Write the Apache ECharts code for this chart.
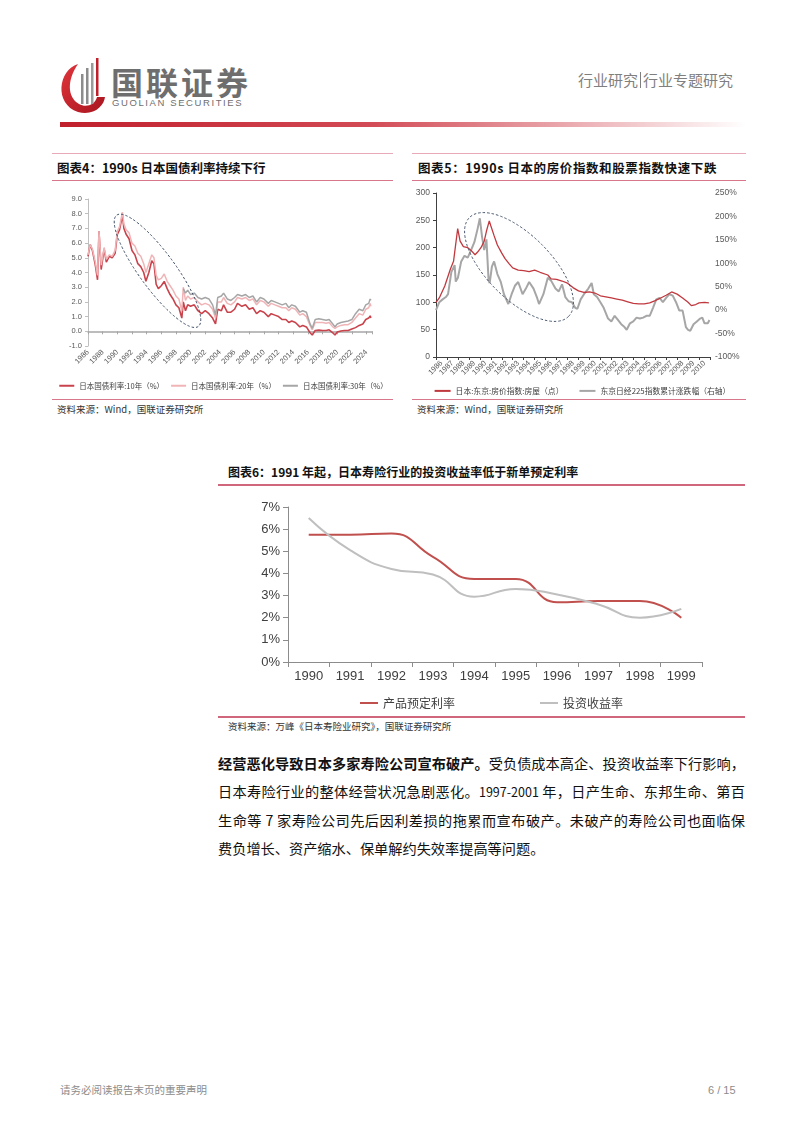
<!DOCTYPE html>
<html><head><meta charset="utf-8">
<script src="https://cdn.jsdelivr.net/npm/echarts@6/dist/echarts.min.js"></script>
<style>
body{margin:0;background:#fff;}
#page{position:relative;width:802px;height:1133px;overflow:hidden;font-family:'Noto Sans CJK SC','Liberation Sans',sans-serif;background:#fff;}
.abs{position:absolute;white-space:nowrap;}
.chart{position:absolute;}
.title{font-weight:bold;font-size:12.5px;color:#111;line-height:14px;}
.src{font-size:9.5px;color:#333;line-height:12px;}
.hl{position:absolute;height:0;}
.bl{position:absolute;left:218px;width:527px;font-size:14.2px;line-height:20px;color:#111;text-align:justify;text-align-last:justify;white-space:nowrap;}
svg.ov{position:absolute;left:0;top:0;pointer-events:none;z-index:5;}
</style></head>
<body><div id="page">
<!-- header -->
<svg class="ov" width="802" height="140" style="z-index:1">
  <defs>
    <linearGradient id="bar" x1="0" x2="1" y1="0" y2="0">
      <stop offset="0" stop-color="#C0202C"/><stop offset="0.45" stop-color="#D24A55"/><stop offset="1" stop-color="#FFFFFF"/>
    </linearGradient>
    <linearGradient id="lg" x1="0" x2="1" y1="0" y2="1">
      <stop offset="0" stop-color="#E0353C"/><stop offset="1" stop-color="#A8141E"/>
    </linearGradient>
  </defs>
  <path d="M78 64 C58 70 54 104 78 112 C94 116 104 106 105 97 L97 97 C95 105 86 108 79 104 C67 97 67 80 78 64 Z" fill="url(#lg)"/>
  <rect x="81" y="74" width="2.5" height="30" fill="#8C8C8C"/>
  <rect x="86" y="68" width="2.5" height="36" fill="#8C8C8C"/>
  <rect x="91" y="63" width="2.5" height="41" fill="#9A9A9A"/>
  <rect x="96" y="58" width="2.5" height="38" fill="#C0202C"/>
  <rect x="60" y="122" width="686" height="5" fill="url(#bar)"/>
</svg>
<div class="abs" style="left:111px;top:63px;font-size:32px;font-weight:bold;color:#6E6E6E;letter-spacing:3px;line-height:36px;">国联证券</div>
<div class="abs" style="left:112px;top:97px;font-size:9.5px;color:#6E6E6E;letter-spacing:1.6px;line-height:11px;font-family:'Liberation Sans',sans-serif;">GUOLIAN SECURITIES</div>
<div class="abs" style="left:578px;top:70px;font-size:15px;color:#7F7F7F;line-height:20px;">行业研究<span style="display:inline-block;width:1px;height:16px;background:#7F7F7F;vertical-align:-2px;margin:0 2px;"></span>行业专题研究</div>

<!-- chart 4 frame -->
<div class="hl" style="left:52px;top:153px;width:341px;border-top:1px solid #E8A9B8;"></div>
<div class="abs title" style="left:57px;top:161px;">图表4：1990s 日本国债利率持续下行</div>
<div class="hl" style="left:52px;top:180px;width:341px;border-top:1.5px solid #D8768C;"></div>
<div id="c4" class="chart" style="left:52px;top:185px;width:343px;height:212px;"></div>
<div class="hl" style="left:52px;top:399px;width:341px;border-top:1.5px solid #D8768C;"></div>
<div class="abs src" style="left:57px;top:403px;">资料来源：Wind，国联证券研究所</div>

<!-- chart 5 frame -->
<div class="hl" style="left:412px;top:153px;width:334px;border-top:1px solid #E8A9B8;"></div>
<div class="abs title" style="left:418px;top:161px;letter-spacing:0.6px;">图表5：1990s 日本的房价指数和股票指数快速下跌</div>
<div class="hl" style="left:412px;top:180px;width:334px;border-top:1.5px solid #D8768C;"></div>
<div id="c5" class="chart" style="left:410px;top:185px;width:345px;height:214px;"></div>
<div class="hl" style="left:412px;top:399px;width:334px;border-top:1.5px solid #D8768C;"></div>
<div class="abs src" style="left:417px;top:403px;">资料来源：Wind，国联证券研究所</div>

<!-- chart 6 frame -->
<div class="abs title" style="left:228px;top:465px;font-size:12px;">图表6：1991 年起，日本寿险行业的投资收益率低于新单预定利率</div>
<div class="hl" style="left:218px;top:484px;width:527px;border-top:2px solid #D0667C;"></div>
<div id="c6" class="chart" style="left:218px;top:490px;width:527px;height:225px;"></div>
<div class="hl" style="left:218px;top:716px;width:527px;border-top:2px solid #D0667C;"></div>
<div class="abs src" style="left:228px;top:720px;">资料来源：万峰《日本寿险业研究》，国联证券研究所</div>

<!-- ellipses -->
<svg class="ov" width="802" height="420">
  <ellipse cx="157.5" cy="270.8" rx="69" ry="18" transform="rotate(53.8 157.5 270.8)" fill="none" stroke="#3F4F66" stroke-width="0.9" stroke-dasharray="2.5,2"/>
  <ellipse cx="519" cy="267" rx="70" ry="32" transform="rotate(45 519 267)" fill="none" stroke="#3F4F66" stroke-width="0.9" stroke-dasharray="2.5,2"/>
</svg>

<!-- body text -->
<div class="bl" style="top:753px;"><b>经营恶化导致日本多家寿险公司宣布破产。</b>受负债成本高企、投资收益率下行影响，</div>
<div class="bl" style="top:781px;">日本寿险行业的整体经营状况急剧恶化。<span style="font-size:12.5px;">1997-2001</span> 年，日产生命、东邦生命、第百</div>
<div class="bl" style="top:810px;">生命等 7 家寿险公司先后因利差损的拖累而宣布破产。未破产的寿险公司也面临保</div>
<div class="bl" style="top:838px;text-align:left;text-align-last:left;">费负增长、资产缩水、保单解约失效率提高等问题。</div>

<!-- footer -->
<div class="abs" style="left:60px;top:1083px;font-size:10.5px;color:#8C8C8C;line-height:14px;">请务必阅读报告末页的重要声明</div>
<div class="abs" style="left:708px;top:1083px;font-size:11px;color:#8C8C8C;line-height:14px;font-family:'Liberation Sans',sans-serif;">6 / 15</div>
</div>

<script>
// ---------- Chart 4: JGB yields ----------
const years4 = [1986.0,1986.3,1986.6,1987.0,1987.3,1987.5,1987.8,1988.2,1988.5,1988.9,1989.3,1989.7,1990.0,1990.3,1990.7,1990.9,1991.2,1991.6,1992.0,1992.4,1992.8,1993.2,1993.6,1993.9,1994.3,1994.7,1995.0,1995.3,1995.6,1996.0,1996.4,1996.8,1997.2,1997.6,1998.0,1998.4,1998.8,1999.0,1999.3,1999.6,2000.0,2000.5,2001.0,2001.5,2002.0,2002.5,2003.0,2003.4,2003.7,2004.2,2004.5,2005.0,2005.5,2006.0,2006.4,2007.0,2007.5,2008.0,2008.5,2009.0,2009.5,2010.0,2010.6,2011.0,2011.5,2012.0,2012.5,2013.0,2013.4,2013.8,2014.3,2014.9,2015.3,2015.8,2016.3,2016.6,2017.0,2017.5,2018.0,2018.5,2018.9,2019.4,2019.7,2020.0,2020.5,2021.0,2021.5,2022.0,2022.5,2023.0,2023.5,2023.9,2024.3,2024.5,2024.6];
const jgb10 = [5.1,5.9,5.5,4.5,3.5,6.8,4.2,5.6,4.7,5.1,5.0,5.3,6.6,6.9,7.9,7.0,6.6,6.3,5.5,5.2,4.6,4.4,4.0,3.4,4.0,4.8,4.6,3.2,2.9,3.1,3.4,2.9,2.5,2.2,1.8,1.6,0.9,2.0,1.4,1.8,1.7,1.8,1.4,1.2,1.4,1.2,0.9,0.5,1.5,1.4,1.8,1.3,1.3,1.5,1.9,1.7,1.8,1.5,1.6,1.2,1.4,1.3,1.0,1.2,1.1,1.0,0.8,0.8,0.6,0.7,0.6,0.3,0.4,0.3,-0.1,-0.25,0.05,0.08,0.05,0.05,0.1,-0.1,-0.25,-0.05,0.02,0.05,0.05,0.15,0.25,0.4,0.5,0.8,0.9,1.05,0.9];
const jgb20 = [5.2,5.9,5.6,4.7,3.8,6.8,4.5,5.7,4.9,5.2,5.1,5.5,6.8,7.1,8.1,7.3,6.9,6.7,6.0,5.8,5.3,5.1,4.6,4.0,4.6,5.2,5.0,3.8,3.5,3.6,3.9,3.4,3.1,2.8,2.4,2.2,1.4,3.0,2.1,2.4,2.2,2.3,2.0,1.8,1.9,1.8,1.5,0.9,2.0,2.0,2.3,1.9,1.8,2.0,2.3,2.2,2.3,2.1,2.2,1.8,2.1,2.0,1.7,1.9,1.8,1.7,1.6,1.6,1.4,1.6,1.5,1.1,1.2,1.0,0.4,0.1,0.6,0.6,0.6,0.55,0.6,0.3,0.2,0.3,0.4,0.45,0.45,0.6,0.9,1.2,1.1,1.5,1.6,1.9,1.7];
const jgb30 = [null,null,null,null,null,null,null,null,null,null,null,null,null,null,null,null,null,null,null,null,null,null,null,null,null,null,null,null,null,null,null,null,null,null,null,null,null,2.9,2.6,2.8,2.5,2.6,2.3,2.2,2.3,2.2,1.8,1.1,2.3,2.4,2.6,2.2,2.1,2.3,2.5,2.4,2.5,2.3,2.4,2.0,2.3,2.2,1.9,2.1,2.0,1.9,1.8,1.9,1.6,1.8,1.7,1.3,1.4,1.3,0.5,0.2,0.8,0.85,0.8,0.75,0.8,0.5,0.3,0.5,0.6,0.65,0.7,0.8,1.2,1.5,1.4,1.8,1.9,2.2,2.1];
const names4 = ['日本国债利率:10年（%）','日本国债利率:20年（%）','日本国债利率:30年（%）'];

// ---------- Chart 5: Tokyo house price index & Nikkei ----------
const yearsRed5 = [1986.0,1986.3,1986.8,1987.3,1987.6,1987.98,1988.2,1988.5,1988.9,1989.2,1989.56,1989.8,1990.1,1990.4,1990.6,1990.86,1991.0,1991.3,1991.6,1992.0,1992.3,1992.7,1993.0,1993.5,1994.0,1994.5,1995.0,1995.5,1996.2,1996.5,1997.0,1997.5,1998.0,1998.5,1999.0,1999.5,2000.0,2000.5,2001.0,2001.5,2002.0,2002.5,2003.0,2003.5,2004.0,2004.5,2005.0,2005.5,2006.0,2006.5,2007.0,2007.5,2008.0,2008.5,2009.0,2009.3,2009.7,2010.0,2010.5,2010.9];
const housePrice = [100,108,130,160,175,235,212,202,200,195,187,192,200,212,230,249,240,222,205,190,180,170,163,159,158,156,159,155,150,143,142,139,135,127,121,118,119,117,112,110,108,106,104,101,98,97,97,99,103,108,113,119,115,108,100,94,96,99,100,99];
const yearsGray5 = [1986.0,1986.3,1986.6,1986.9,1987.1,1987.4,1987.7,1987.8,1988.0,1988.3,1988.6,1988.9,1989.2,1989.5,1989.8,1990.0,1990.2,1990.4,1990.6,1990.8,1990.9,1991.1,1991.3,1991.6,1991.9,1992.2,1992.6,1992.9,1993.2,1993.5,1993.9,1994.2,1994.5,1994.9,1995.2,1995.4,1995.8,1996.2,1996.5,1996.9,1997.2,1997.5,1997.8,1998.1,1998.4,1998.7,1998.9,1999.2,1999.5,1999.9,2000.2,2000.4,2000.7,2001.0,2001.3,2001.7,2002.0,2002.3,2002.6,2002.9,2003.2,2003.4,2003.7,2004.0,2004.3,2004.6,2004.9,2005.2,2005.5,2005.8,2006.1,2006.4,2006.7,2007.0,2007.3,2007.6,2007.9,2008.2,2008.5,2008.8,2009.0,2009.2,2009.5,2009.8,2010.1,2010.3,2010.5,2010.8,2010.95];
const nikkeiChg = [0,17,23,28,34,81,96,61,69,104,116,112,128,145,174,196,157,128,151,63,58,93,104,77,61,34,13,34,52,60,34,46,60,46,28,13,34,69,63,46,40,55,28,19,17,5,3,23,34,46,58,34,28,17,5,-18,-24,-12,-21,-30,-36,-42,-28,-24,-16,-18,-16,-12,-12,5,23,26,17,26,34,31,17,-1,-1,-36,-42,-44,-30,-24,-18,-16,-28,-28,-21];
const yearLabels5 = ['1986','1987','1988','1989','1990','1991','1992','1993','1994','1995','1996','1997','1998','1999','2000','2001','2002','2003','2004','2005','2006','2007','2008','2009','2010'];
const names5 = ['日本:东京:房价指数:房屋（点）','东京日经225指数累计涨跌幅（右轴）'];

// ---------- Chart 6: life insurers ----------
const years6 = ['1990','1991','1992','1993','1994','1995','1996','1997','1998','1999'];
const assumedRate = [5.75,5.75,5.8,4.75,3.75,3.75,2.7,2.75,2.75,2.0];
const investYield = [6.5,5.05,4.2,3.95,2.95,3.3,3.05,2.6,2.0,2.4];
const names6 = ['产品预定利率','投资收益率'];

const pair = (xs, ys) => xs.map((x, i) => [x, ys[i]]);
const FONT = "'Liberation Sans','Noto Sans CJK SC',sans-serif";

// Chart 4
echarts.init(document.getElementById('c4')).setOption({
  animation: false,
  textStyle: {fontFamily: FONT},
  grid: {left: 36, top: 14, right: 23, bottom: 51},
  legend: {top: 197, left: 'center', padding: 0, icon: 'rect', itemWidth: 15, itemHeight: 2, itemGap: 7,
    textStyle: {fontSize: 7.5, color: '#404040', fontFamily: "'Noto Sans CJK SC',sans-serif"},
    data: names4},
  xAxis: [
    {type: 'value', min: 1986, max: 2024.75, interval: 2, position: 'bottom',
     axisLine: {show: false, onZero: false}, axisTick: {show: false}, splitLine: {show: false},
     axisLabel: {rotate: 45, fontSize: 7.5, color: '#595959', margin: 5, showMaxLabel: false,
       formatter: v => (Number.isInteger(v) && v <= 2024) ? String(v) : ''}},
    {type: 'value', min: 1986, max: 2024.75, interval: 2, position: 'bottom',
     axisLine: {show: true, onZero: true, lineStyle: {color: '#A6A6A6', width: 1.5}},
     axisTick: {show: true, length: 3, lineStyle: {color: '#A6A6A6'}},
     axisLabel: {show: false}, splitLine: {show: false}}
  ],
  yAxis: {type: 'value', min: -1, max: 9, interval: 1,
    axisLine: {show: true, onZero: false, lineStyle: {color: '#BFBFBF'}},
    axisTick: {show: true, length: 3, lineStyle: {color: '#BFBFBF'}},
    axisLabel: {fontSize: 7.5, color: '#595959', margin: 6, showMaxLabel: true, showMinLabel: true,
      formatter: v => v.toFixed(1)},
    splitLine: {show: false}},
  series: [
    {name: names4[0], type: 'line', xAxisIndex: 0, data: pair(years4, jgb10), showSymbol: false,
     lineStyle: {color: '#C9434C', width: 1.6}, itemStyle: {color: '#C9434C'}},
    {name: names4[1], type: 'line', xAxisIndex: 0, data: pair(years4, jgb20), showSymbol: false,
     lineStyle: {color: '#F0B4B6', width: 1.5}, itemStyle: {color: '#F0B4B6'}},
    {name: names4[2], type: 'line', xAxisIndex: 0, data: pair(years4, jgb30), showSymbol: false, connectNulls: false,
     lineStyle: {color: '#A6A6A6', width: 1.5}, itemStyle: {color: '#A6A6A6'}}
  ]
});

// Chart 5
echarts.init(document.getElementById('c5')).setOption({
  animation: false,
  textStyle: {fontFamily: FONT},
  grid: {left: 26, top: 8, right: 45, bottom: 42},
  legend: {top: 202, left: 'center', padding: 0, icon: 'rect', itemWidth: 16, itemHeight: 2, itemGap: 16,
    textStyle: {fontSize: 7.8, color: '#404040', fontFamily: "'Noto Sans CJK SC',sans-serif"},
    data: names5},
  xAxis: [
    {type: 'value', min: 1986, max: 2011, interval: 1, position: 'bottom',
     axisLine: {show: true, onZero: false, lineStyle: {color: '#404040'}},
     axisTick: {show: true, length: 3, lineStyle: {color: '#404040'}},
     axisLabel: {show: false}, splitLine: {show: false}},
    {type: 'category', data: yearLabels5, position: 'bottom', boundaryGap: true,
     axisLine: {show: false, onZero: false}, axisTick: {show: false},
     axisLabel: {rotate: 45, interval: 0, fontSize: 7.5, color: '#595959', margin: 5}}
  ],
  yAxis: [
    {type: 'value', min: 0, max: 300, interval: 50,
     axisLine: {show: true, onZero: false, lineStyle: {color: '#404040'}},
     axisTick: {show: true, length: 3, lineStyle: {color: '#404040'}},
     axisLabel: {fontSize: 8.5, color: '#595959', margin: 6, showMaxLabel: true}, splitLine: {show: false}},
    {type: 'value', min: -100, max: 250, interval: 50, position: 'right',
     axisLine: {show: false, onZero: false}, axisTick: {show: false},
     axisLabel: {fontSize: 8.5, color: '#595959', margin: 5, showMaxLabel: true, formatter: v => v + '%'}, splitLine: {show: false}}
  ],
  series: [
    {name: names5[1], type: 'line', xAxisIndex: 0, yAxisIndex: 1, data: pair(yearsGray5, nikkeiChg), showSymbol: false,
     lineStyle: {color: '#A6A6A6', width: 2}, itemStyle: {color: '#A6A6A6'}},
    {name: names5[0], type: 'line', xAxisIndex: 0, yAxisIndex: 0, data: pair(yearsRed5, housePrice), showSymbol: false,
     lineStyle: {color: '#C0393F', width: 1.3}, itemStyle: {color: '#C0393F'}}
  ]
});

// Chart 6
echarts.init(document.getElementById('c6')).setOption({
  animation: false,
  textStyle: {fontFamily: FONT},
  grid: {left: 70, top: 17, right: 43, bottom: 53},
  legend: [
    {top: 202, left: 137, icon: 'rect', itemWidth: 18, itemHeight: 2, data: [names6[0]],
     textStyle: {fontSize: 12, color: '#404040', fontFamily: "'Noto Sans CJK SC',sans-serif"}},
    {top: 202, left: 317, icon: 'rect', itemWidth: 18, itemHeight: 2, data: [names6[1]],
     textStyle: {fontSize: 12, color: '#404040', fontFamily: "'Noto Sans CJK SC',sans-serif"}}
  ],
  xAxis: {type: 'category', data: years6, boundaryGap: true,
    axisLine: {show: true, lineStyle: {color: '#8C8C8C'}},
    axisTick: {show: true, length: 5, lineStyle: {color: '#8C8C8C'}},
    axisLabel: {fontSize: 13, color: '#404040', margin: 8}},
  yAxis: {type: 'value', min: 0, max: 7, interval: 1,
    axisLine: {show: true, lineStyle: {color: '#8C8C8C'}},
    axisTick: {show: true, length: 5, lineStyle: {color: '#8C8C8C'}},
    axisLabel: {fontSize: 13, color: '#404040', margin: 8, showMaxLabel: true, formatter: v => v + '%'},
    splitLine: {show: false}},
  series: [
    {name: names6[0], type: 'line', data: assumedRate, smooth: 0.5, showSymbol: false,
     lineStyle: {color: '#C0504D', width: 2}, itemStyle: {color: '#C0504D'}},
    {name: names6[1], type: 'line', data: investYield, smooth: 0.5, showSymbol: false,
     lineStyle: {color: '#BFBFBF', width: 2}, itemStyle: {color: '#BFBFBF'}}
  ]
});
</script>
</body></html>
